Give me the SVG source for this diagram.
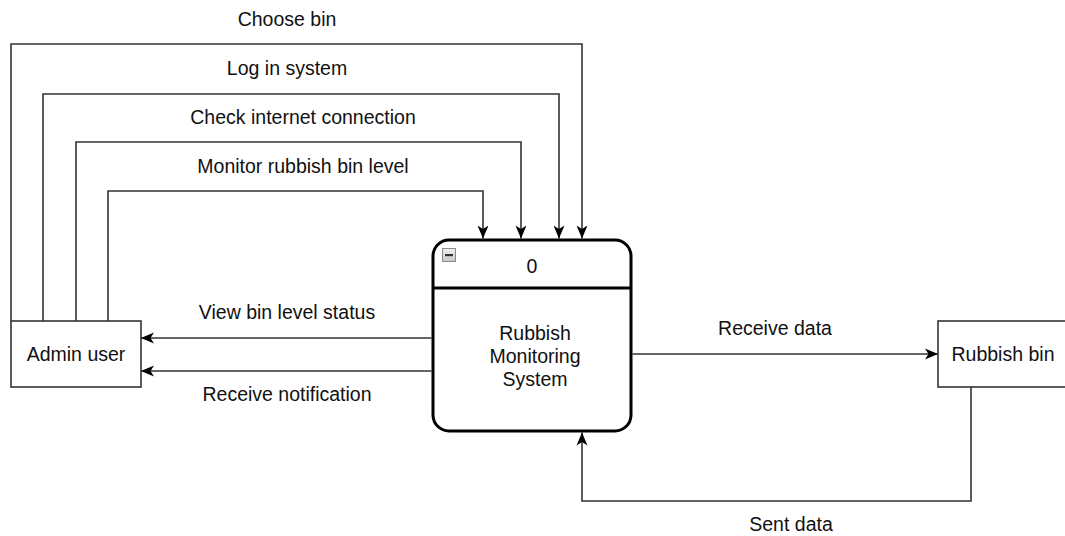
<svg xmlns="http://www.w3.org/2000/svg" width="1065" height="536" viewBox="0 0 1065 536">
  <style>
    .lbl { font-family: "Liberation Sans", Arial, sans-serif; font-size: 19.5px; fill: #111; text-anchor: middle; }
    .flow { fill: none; stroke: #333; stroke-width: 1.6; }
    .entity { fill: #fff; stroke: #333; stroke-width: 1.6; }
    .process { fill: #fff; stroke: #000; stroke-width: 3; }
  </style>
  <defs>
    <marker id="arrow" viewBox="0 0 13 12" refX="13" refY="6" markerWidth="13" markerHeight="12" orient="auto" markerUnits="userSpaceOnUse">
      <path d="M0,0.5 L13,6 L0,11.5 L3.5,6 Z" fill="#000"/>
    </marker>
    <linearGradient id="btnFill" x1="0" y1="0" x2="0" y2="1">
      <stop offset="0" stop-color="#f0f0f0"/>
      <stop offset="1" stop-color="#c8c8c8"/>
    </linearGradient>
  </defs>
  <rect width="1065" height="536" fill="#fff"/>

  <!-- data flows -->
  <g id="connectors">
    <path class="flow" d="M11,321 V44 H582 V238.5" marker-end="url(#arrow)"/>
    <path class="flow" d="M43,321 V94 H559 V238.5" marker-end="url(#arrow)"/>
    <path class="flow" d="M76,321 V142 H521 V238.5" marker-end="url(#arrow)"/>
    <path class="flow" d="M108,321 V191 H483 V238.5" marker-end="url(#arrow)"/>
    <path class="flow" d="M431.5,338 H141" marker-end="url(#arrow)"/>
    <path class="flow" d="M431.5,371 H141" marker-end="url(#arrow)"/>
    <path class="flow" d="M632.5,354 H938" marker-end="url(#arrow)"/>
    <path class="flow" d="M971,387 V501 H582 V432.5" marker-end="url(#arrow)"/>

    <text class="lbl" x="287" y="26">Choose bin</text>
    <text class="lbl" x="287" y="75">Log in system</text>
    <text class="lbl" x="303" y="124">Check internet connection</text>
    <text class="lbl" x="303" y="173">Monitor rubbish bin level</text>
    <text class="lbl" x="287" y="319">View bin level status</text>
    <text class="lbl" x="287" y="401">Receive notification</text>
    <text class="lbl" x="775" y="335">Receive data</text>
    <text class="lbl" x="791" y="531">Sent data</text>
  </g>

  <!-- external entity: admin -->
  <g id="admin-user">
    <rect class="entity" x="11" y="321" width="130" height="66"/>
    <text class="lbl" x="76" y="361">Admin user</text>
  </g>

  <!-- external entity: bin -->
  <g id="rubbish-bin">
    <rect class="entity" x="938" y="321" width="130" height="66"/>
    <text class="lbl" x="1003" y="361">Rubbish bin</text>
  </g>

  <!-- process 0 -->
  <g id="process-0">
    <rect class="process" x="433" y="240" width="198" height="191" rx="16" ry="16"/>
    <line x1="433" y1="288" x2="631" y2="288" stroke="#000" stroke-width="3"/>
    <rect x="442.5" y="248.5" width="13" height="13" fill="url(#btnFill)" stroke="#8a8a8a" stroke-width="1"/>
    <rect x="445" y="254" width="8" height="2.2" fill="#333"/>
    <text class="lbl" x="532" y="273">0</text>
    <text class="lbl" x="535" y="340">Rubbish</text>
    <text class="lbl" x="535" y="363">Monitoring</text>
    <text class="lbl" x="535" y="386">System</text>
  </g>
</svg>
